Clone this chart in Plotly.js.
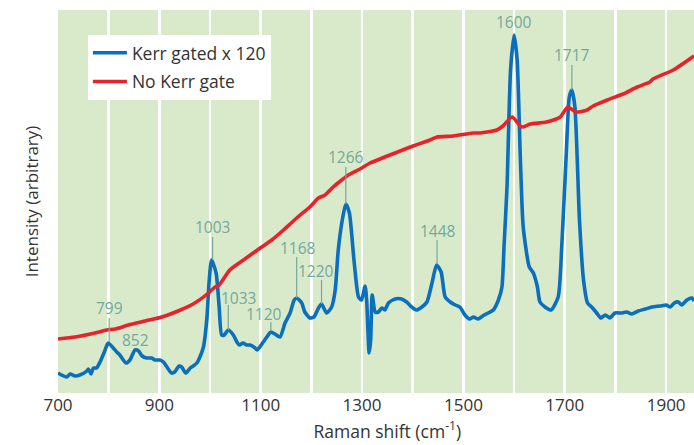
<!DOCTYPE html>
<html>
<head>
<meta charset="utf-8">
<script src="https://cdn.plot.ly/plotly-3.0.1.min.js"></script>
<style>html,body{margin:0;padding:0;background:#fff;}#chart{width:694px;height:445px;}</style>
</head>
<body>
<div id="chart"></div>
<script>
// Kerr gated spectrum (x 120)
const kerrShift = [700,717,724,734,743,757,760,765,770,776,783,793,799,809,816,822,834,842,852,859,866,875,885,891,901,908,915,924,930,939,944,952,961,967,974,980,987,994,998,1003,1012,1018,1023,1028,1036,1046,1053,1058,1065,1072,1079,1089,1093,1105,1112,1120,1128,1138,1148,1158,1166,1171,1181,1187,1197,1205,1214,1220,1230,1240,1247,1253,1262,1268,1275,1284,1293,1299,1306,1309,1314,1317,1320,1326,1332,1339,1345,1352,1365,1378,1388,1398,1407,1418,1428,1438,1447,1456,1464,1474,1484,1493,1503,1512,1520,1529,1541,1549,1559,1569,1576,1580,1586,1593,1600,1606,1612,1618,1630,1638,1646,1651,1661,1673,1687,1694,1703,1709,1714,1720,1729,1737,1745,1753,1763,1771,1780,1789,1799,1813,1822,1832,1845,1859,1872,1888,1900,1908,1916,1924,1931,1941,1951,1955];
const kerrIntensity = [20,16,19,17,18,22,24,19,25,25,31,43,50,45,41,38,30,33,43,42,37,35,35,33,33,31,26,20,21,27,26,20,25,27,30,36,46,76,110,133,120,86,58,58,63,58,51,48,50,48,48,45,43,51,56,61,59,56,70,80,93,95,90,81,75,76,85,89,80,86,103,143,176,189,180,133,96,93,107,93,40,53,98,81,81,85,83,90,94,94,91,86,83,86,91,110,128,121,96,91,88,86,78,74,76,74,78,80,83,93,106,145,206,323,358,333,240,166,126,120,106,91,86,83,96,146,240,296,303,286,173,113,90,86,80,75,78,75,80,80,81,79,82,84,86,87,88,86,90,91,88,93,95,92];

// Spectrum without Kerr gate
const noKerrShift = [700,734,773,796,813,839,872,905,937,970,997,1003,1010,1018,1039,1066,1099,1122,1145,1171,1197,1214,1227,1243,1260,1273,1296,1316,1375,1401,1434,1448,1480,1519,1533,1566,1578,1596,1615,1632,1664,1691,1706,1722,1744,1756,1784,1815,1843,1868,1874,1914,1955];
const noKerrIntensity = [54,56,60,63,64,68,72,76,82,90,100,103,106,108,123,133,145,153,163,175,186,195,198,206,213,218,224,230,242,247,253,256,257,260,260,263,267,276,266,269,271,276,286,281,283,287,293,299,306,311,314,323,337];

// Peak annotations
const peakText  = ['799','852','1003','1033','1120','1168','1220','1266','1448','1600','1717'];
const peakShift = [801, 852, 1005, 1036, 1120, 1171, 1220, 1268, 1448, 1600, 1714];

// Axis ticks
const tickValues = [700, 900, 1100, 1300, 1500, 1700, 1900];

// ---- layout helpers (positions of labels relative to peaks) ----
const labelShift = [801, 852, 1005, 1057, 1107, 1173, 1209, 1268, 1449, 1600, 1714];
const labelLevel = [85, 53, 166, 95, 79, 145, 122, 236, 162, 371, 338];
const leaderTop  = [75, null, 156, 88, 71, 136, 113, 226, 153, null, 328];
const leaderBot  = [51, null, 133, 63, 62, 95, 89, 189, 129, null, 303];

const labelColor = '#74a89b';
const annotations = peakText.map((t, i) => ({
  text: t, x: labelShift[i], y: labelLevel[i], xref: 'x', yref: 'y',
  showarrow: false, xanchor: 'center', yanchor: 'middle',
  font: {family: 'Open Sans', size: 15.5, color: labelColor}
}));
const shapes = [];
peakText.forEach((t, i) => {
  if (leaderTop[i] !== null) {
    shapes.push({type: 'line', xref: 'x', yref: 'y', x0: peakShift[i], x1: peakShift[i],
      y0: leaderBot[i], y1: leaderTop[i], line: {color: labelColor, width: 1.2}, layer: 'above'});
  }
});

const traces = [
  {x: kerrShift, y: kerrIntensity, type: 'scatter', mode: 'lines', name: 'Kerr gated x 120',
   legendgroup: 'a', line: {color: '#0a6fbd', width: 3.6, shape: 'spline', smoothing: 0.6}},
  {x: noKerrShift, y: noKerrIntensity, type: 'scatter', mode: 'lines', name: 'No Kerr gate',
   legendgroup: 'b', line: {color: '#e8212b', width: 3.6, shape: 'spline', smoothing: 0.6}}
];

const layout = {
  width: 694, height: 445,
  margin: {l: 58, r: 0, t: 10, b: 52},
  paper_bgcolor: '#ffffff', plot_bgcolor: '#d9eacb',
  font: {family: 'Open Sans', color: '#333333'},
  showlegend: true,
  legend: {x: 0.047, y: 0.935, xanchor: 'left', yanchor: 'top', bgcolor: '#ffffff',
    borderwidth: 0, font: {family: 'Open Sans', size: 17.5, color: '#333333'},
    traceorder: 'grouped', tracegroupgap: 3, itemwidth: 34},
  xaxis: {range: [700, 1955], tickvals: tickValues, ticktext: tickValues.map(String),
    showgrid: true, gridcolor: '#ffffff', gridwidth: 2.6, zeroline: false, ticks: '',
    showline: false, tickfont: {family: 'Open Sans', size: 17, color: '#333333'},
    minor: {dtick: 100, tick0: 700, showgrid: true, gridcolor: '#ffffff', gridwidth: 2.6, ticks: ''},
    title: {text: '&nbsp;&nbsp;&nbsp;&nbsp;&nbsp;Raman shift (cm<sup>-1</sup>)', font: {family: 'Open Sans', size: 17.5, color: '#333333'}, standoff: 10}},
  yaxis: {range: [0, 383], showgrid: false, zeroline: false, showticklabels: false, ticks: '',
    showline: false,
    title: {text: 'Intensity (arbitrary)', font: {family: 'Open Sans', size: 17, color: '#333333'}, standoff: 14}},
  annotations: annotations,
  shapes: shapes
};

Plotly.newPlot('chart', traces, layout, {displayModeBar: false, staticPlot: true});
</script>
</body>
</html>
